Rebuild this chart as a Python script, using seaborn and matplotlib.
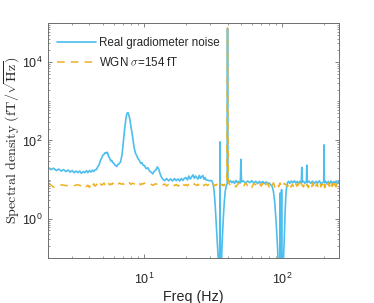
import matplotlib
matplotlib.use('Agg')
import matplotlib.pyplot as plt
import matplotlib.ticker as mticker
import seaborn as sns

# real gradiometer noise spectrum
blue_freq = [
    2.0, 2.1, 2.2, 2.3, 2.4, 2.5, 2.6, 2.7, 2.8, 2.9, 3.0, 3.1, 3.2, 3.3, 3.4, 3.5, 3.6, 3.7, 3.8, 3.9,
    4.0, 4.1, 4.2, 4.3, 4.4, 4.5, 4.6, 4.7, 4.8, 4.9, 5.0, 5.1, 5.2, 5.3, 5.4, 5.5, 5.6, 5.7, 5.8, 5.9,
    6.0, 6.1, 6.2, 6.3, 6.4, 6.5, 6.6, 6.7, 6.8, 6.9, 7.0, 7.1, 7.2, 7.3, 7.4, 7.5, 7.6, 7.7, 7.8, 7.9,
    8.0, 8.1, 8.2, 8.3, 8.4, 8.6, 8.8, 9.0, 9.2, 9.4, 9.6, 9.8, 10.0, 10.3, 10.6, 10.9, 11.2, 11.5, 11.8, 12.1,
    12.4, 12.7, 13.0, 13.3, 13.6, 14.0, 14.5, 15.0, 15.5, 16.0, 16.5, 17.0, 17.5, 18.0, 18.5, 19.0, 19.5, 20.0, 20.5, 21.0,
    21.5, 22.0, 22.5, 23.0, 23.5, 24.0, 24.5, 25.0, 25.5, 26.0, 26.5, 27.0, 27.5, 28.0, 28.5, 29.0, 29.5, 30.0, 30.5, 31.0,
    31.5, 32.0, 32.5, 33.0, 33.5, 34.0, 34.5, 35.1, 35.3, 35.5, 36.0, 36.5, 37.0, 37.5, 38.0, 38.5, 39.0, 39.5, 39.8, 40.0,
    40.2, 41, 42, 43, 44, 45, 46, 47, 48, 49.5, 50, 50.5, 52, 54, 56, 58, 60, 62, 64, 66,
    68, 70, 72, 74, 76, 78, 80, 82, 84, 86, 88, 90, 92, 93.5, 95.5, 96, 96.5, 98, 98.5, 99,
    101, 103, 104.5, 106, 107.5, 109, 111, 113, 116, 119, 122, 125, 128, 131, 134, 137, 138, 139, 142, 145,
    149, 150, 151, 155, 160, 165, 170, 175, 180, 185, 190, 199, 200, 201, 205, 210, 215, 220, 225, 230,
    235, 240, 245, 250, 256]
blue_val = [
    21, 18, 19.5, 17, 18.5, 16.5, 18, 16, 17.5, 15.5, 17, 15, 16.5, 15, 16.5, 14.5, 16, 15, 17, 15,
    17, 15.5, 17.5, 16, 18, 18, 21.5, 24, 30.5, 35, 42, 44, 49, 47, 50, 39, 36, 30, 31, 27,
    26.5, 23.5, 23, 21.5, 24, 24.5, 26.5, 27.5, 34, 45, 75, 130, 200, 300, 420, 500, 515, 460, 380, 300,
    220, 170, 130, 95, 70, 48, 41, 34, 31, 26, 27, 23, 23, 19, 20, 16.5, 15.5, 14, 16.5, 17.5,
    21, 18.5, 14, 11.5, 10.2, 9.4, 10.6, 9.3, 10.4, 9.2, 10.6, 9.4, 10.4, 9.2, 10.7, 9.5, 10.8, 11.2, 9.8, 12.3,
    10.3, 11.8, 13.2, 10.8, 12.4, 11.2, 10.3, 12.8, 10.8, 11.8, 12.7, 10.2, 11.3, 9.8, 9.8, 9.5, 9.4, 9.3, 9.5, 8.9,
    7.5, 5, 2.5, 1.0, 0.4, 0.15, 0.06, 0.05, 92, 0.05, 0.05, 0.2, 0.6, 1.5, 3, 5, 6.5, 7.5, 8, 72000,
    9, 8.6, 9.4, 8.3, 9.1, 8.0, 9.5, 8.4, 9.0, 8.2, 33, 8.8, 9.3, 8.1, 9.2, 8.3, 9.4, 8.0, 9.1, 7.9,
    9.0, 8.2, 8.9, 7.9, 8.7, 8.0, 8.2, 7.4, 6.8, 5.0, 2.5, 0.8, 0.2, 0.05, 0.05, 4.5, 0.05, 0.05, 5.5, 0.05,
    0.05, 0.3, 1.5, 4.5, 7, 8.5, 9.0, 8.0, 9.2, 8.3, 9.3, 8.1, 9.0, 7.9, 9.1, 8.2, 20.5, 8.6, 9.2, 8.0,
    9.0, 23.5, 8.3, 9.2, 8.0, 9.1, 7.9, 9.0, 8.1, 9.3, 7.8, 8.9, 77, 8.2, 9.1, 7.9, 9.0, 8.0, 9.2, 7.8,
    8.9, 8.1, 9.2, 7.9, 8.6]

# white gaussian noise, sigma = 154 fT
wgn_freq = [
    2.0, 2.1, 2.2, 2.3, 2.4, 2.5, 2.6, 2.7, 2.8, 2.9, 3.0, 3.1, 3.2, 3.3, 3.4, 3.5, 3.6, 3.7, 3.8, 3.9,
    4.0, 4.1, 4.2, 4.3, 4.4, 4.5, 4.6, 4.7, 4.8, 4.9, 5.0, 5.1, 5.2, 5.3, 5.4, 5.5, 5.6, 5.7, 5.8, 5.9,
    6.0, 6.2, 6.4, 6.6, 6.8, 7.0, 7.2, 7.4, 7.6, 7.8, 8.0, 8.2, 8.4, 8.6, 8.8, 9.0, 9.2, 9.4, 9.6, 9.8,
    10, 10.5, 11, 11.5, 12, 12.5, 13, 13.5, 14, 14.5, 15, 15.5, 16, 16.5, 17, 17.5, 18, 18.5, 19, 19.5,
    20, 20.5, 21, 21.5, 22, 22.5, 23, 23.5, 24, 24.5, 25, 25.5, 26, 26.5, 27, 27.5, 28, 28.5, 29, 29.5,
    30, 30.5, 31, 31.5, 32, 32.5, 33, 33.5, 34, 34.5, 35, 35.5, 36, 36.5, 37, 37.5, 38, 38.5, 39, 39.5,
    40, 40.5, 42, 44, 46, 48, 50, 52, 54, 56, 58, 60, 62, 64, 66, 68, 70, 72, 74, 76,
    78, 80, 82, 84, 86, 88, 90, 92, 94, 96, 98, 100, 103, 106, 109, 112, 115, 118, 121, 124,
    127, 130, 133, 136, 139, 142, 145, 148, 151, 154, 157, 160, 163, 166, 169, 172, 175, 178, 181, 184,
    187, 190, 193, 196, 199, 202, 205, 208, 211, 214, 217, 220, 223, 226, 229, 232, 235, 238, 241, 244,
    247, 250, 253, 256]
wgn_val = [
    7.7, 7.3, 6.4, 6.6, 7.1, 7.3, 7.2, 7.0, 7.1, 7.3, 7.2, 7.0, 7.2, 7.4, 7.1, 6.9, 7.3, 7.6, 6.6, 7.2,
    6.3, 7.6, 6.5, 7.8, 6.8, 7.4, 8.1, 6.9, 7.8, 7.2, 7.6, 8.2, 7.0, 7.9, 7.4, 8.0, 7.3, 7.8, 7.5, 8.1,
    7.4, 7.9, 7.3, 8.2, 7.6, 7.9, 7.2, 8.0, 7.7, 8.3, 7.5, 8.1, 7.8, 7.4, 8.2, 7.6, 8.0, 7.3, 7.9, 7.7,
    8.1, 7.4, 7.9, 7.1, 7.8, 7.5, 8.0, 7.2, 7.7, 6.9, 7.6, 7.3, 7.9, 7.0, 7.5, 6.8, 7.4, 6.6, 7.6, 7.1,
    7.5, 6.9, 7.7, 7.2, 7.4, 7.0, 7.8, 7.3, 7.1, 7.6, 6.9, 7.5, 7.2, 7.8, 7.0, 7.4, 7.6, 7.1, 7.3, 7.7,
    7.0, 7.5, 7.2, 7.8, 6.9, 7.4, 7.1, 7.6, 7.3, 6.8, 7.5, 7.0, 7.7, 7.2, 7.4, 6.9, 7.6, 7.1, 7.8, 8.2,
    75000, 8.6, 7.0, 7.8, 6.5, 8.1, 7.2, 6.4, 8.3, 7.0, 7.7, 6.3, 8.0, 7.4, 6.6, 8.2, 6.8, 7.9, 6.2, 7.6,
    8.1, 6.5, 7.8, 6.9, 8.3, 6.4, 7.5, 7.9, 6.6, 8.2, 7.0, 6.3, 8.0, 7.3, 6.7, 8.4, 6.5, 7.7, 6.2, 8.1,
    6.8, 7.9, 6.3, 8.2, 7.1, 6.5, 8.4, 6.9, 7.6, 6.2, 8.1, 7.3, 6.6, 8.3, 6.4, 7.8, 6.9, 8.0, 6.3, 7.5,
    8.2, 6.5, 7.7, 6.8, 8.4, 6.2, 7.4, 8.0, 6.6, 8.3, 6.9, 7.2, 6.3, 8.1, 6.7, 7.9, 6.4, 8.2, 7.0, 6.5,
    8.0, 6.8, 7.6, 7.2]

labels = ['Real gradiometer noise', r'WGN $\sigma$=154 fT']

BLUE = '#4DBEEE'
ORANGE = '#EDB120'

sns.set_style('ticks', {'xtick.direction': 'in', 'ytick.direction': 'in',
                        'axes.edgecolor': '#6e6e6e'})
plt.rcParams['font.family'] = ['Liberation Sans', 'DejaVu Sans']
plt.rcParams['mathtext.fontset'] = 'cm'

fig = plt.figure(figsize=(3.74, 3.03), dpi=100)
ax = fig.add_axes([0.128, 0.149, 0.778, 0.775])

sns.lineplot(x=blue_freq, y=blue_val, ax=ax, color=BLUE, linewidth=1.2,
             estimator=None, sort=False, label=labels[0])
sns.lineplot(x=wgn_freq, y=wgn_val, ax=ax, color=ORANGE, linewidth=1.1,
             estimator=None, sort=False, label=labels[1], linestyle=(0, (5, 4)))

ax.set_xscale('log')
ax.set_yscale('log')
ax.set_xlim(2, 256)
ax.set_ylim(0.1, 1e5)

ax.set_yticks([1, 1e2, 1e4])
ax.yaxis.set_minor_locator(mticker.LogLocator(base=10, subs=range(1, 10), numticks=20))
ax.yaxis.set_minor_formatter(mticker.NullFormatter())
ax.set_xticks([10, 100])
ax.xaxis.set_minor_locator(mticker.LogLocator(base=10, subs=range(1, 10), numticks=20))
ax.xaxis.set_minor_formatter(mticker.NullFormatter())

ax.tick_params(which='both', top=True, right=True, direction='in', color='#6e6e6e',
               labelcolor='#262626', labelsize=9)
ax.tick_params(which='major', length=3, width=0.6)
ax.tick_params(which='minor', length=1.6, width=0.5)
ax.tick_params(axis='x', pad=10)
ax.tick_params(axis='y', pad=4)
for s in ax.spines.values():
    s.set_linewidth(0.7)

ax.set_xlabel('Freq (Hz)', fontsize=10.3, color='#262626', labelpad=2)
ax.set_ylabel(r'$\mathrm{Spectral\ density}\ (\mathrm{fT}/\sqrt{\mathrm{Hz}})$',
              fontsize=10.2, color='#262626')
ax.yaxis.set_label_coords(-0.088, 0.5)

ax.legend(loc='upper left', bbox_to_anchor=(0.03, 0.94), frameon=False, fontsize=8.4,
          handlelength=3.4, handletextpad=0.2, labelspacing=0.6, borderpad=0, borderaxespad=0)

fig.savefig('out.png', dpi=100)
